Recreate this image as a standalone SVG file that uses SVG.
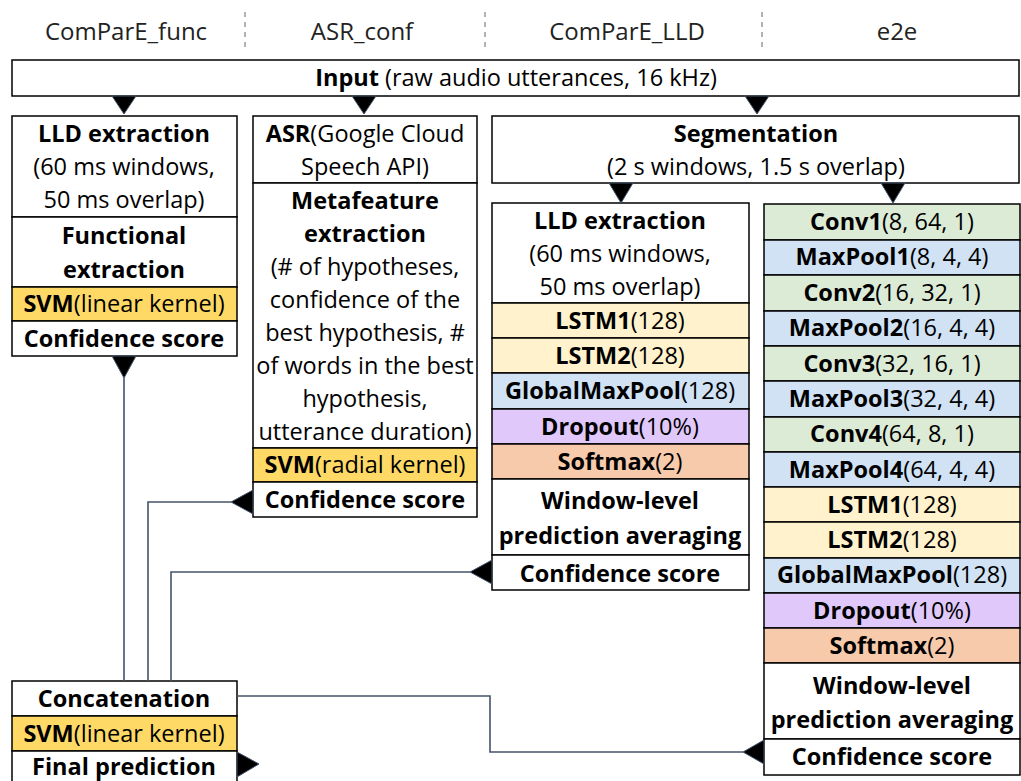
<svg xmlns="http://www.w3.org/2000/svg" width="1021" height="781" viewBox="0 0 1021 781">
<style>
text{font-family:"Open Sans",Lato,"Liberation Sans",sans-serif;font-size:23.5px;fill:#000;text-anchor:middle}
.b{font-weight:bold}
.h{font-size:24px;fill:#222}
.in{font-size:23.5px}
.box{stroke:#000;stroke-width:1.5}
.w{fill:#fff}
.svm{fill:#FFD966}
.lstm{fill:#FFF2CC}
.blue{fill:#D0E2F3}
.green{fill:#DCEBD5}
.drop{fill:#E0C9FA}
.soft{fill:#F7CAAC}
.sep{stroke:#666;stroke-width:1;stroke-dasharray:5,5}
.ln{fill:none;stroke:#44546A;stroke-width:1.6}
.ah{fill:#000;stroke:#44546A;stroke-width:1}
</style>
<rect x="0" y="0" width="1021" height="781" fill="#fff"/>
<g id="header">
<line class="sep" x1="245" y1="12" x2="245" y2="50"/>
<line class="sep" x1="485" y1="12" x2="485" y2="50"/>
<line class="sep" x1="762" y1="12" x2="762" y2="50"/>
<text class="h" x="126" y="40">ComParE_func</text>
<text class="h" x="362" y="40">ASR_conf</text>
<text class="h" x="627" y="40">ComParE_LLD</text>
<text class="h" x="897" y="40">e2e</text>
</g>
<g id="input">
<rect class="box w" x="12" y="60" width="1007" height="36"/>
<text class="in" x="516" y="86"><tspan class="b">Input</tspan> (raw audio utterances, 16 kHz)</text>
</g>
<g id="func">
<rect class="box w" x="12" y="116" width="225" height="101"/>
<text class="b" x="124" y="142">LLD extraction</text>
<text x="124" y="175">(60 ms windows,</text>
<text x="124" y="208">50 ms overlap)</text>
<rect class="box w" x="12" y="217" width="225" height="70"/>
<text class="b" x="124" y="244">Functional</text>
<text class="b" x="124" y="278">extraction</text>
<rect class="box svm" x="12" y="287" width="225" height="34"/>
<text x="124" y="312"><tspan class="b">SVM</tspan>(linear kernel)</text>
<rect class="box w" x="12" y="321" width="225" height="35"/>
<text class="b" x="124" y="347">Confidence score</text>
</g>
<g id="asr">
<rect class="box w" x="253" y="116" width="224" height="67"/>
<text x="365" y="142"><tspan class="b">ASR</tspan>(Google Cloud</text>
<text x="365" y="175">Speech API)</text>
<rect class="box w" x="253" y="183" width="224" height="265"/>
<text class="b" x="365" y="209">Metafeature</text>
<text class="b" x="365" y="242">extraction</text>
<text x="365" y="275">(# of hypotheses,</text>
<text x="365" y="308">confidence of the</text>
<text x="365" y="341">best hypothesis, #</text>
<text x="365" y="374">of words in the best</text>
<text x="365" y="407">hypothesis,</text>
<text x="365" y="440">utterance duration)</text>
<rect class="box svm" x="253" y="448" width="224" height="34"/>
<text x="365" y="473"><tspan class="b">SVM</tspan>(radial kernel)</text>
<rect class="box w" x="253" y="482" width="224" height="35"/>
<text class="b" x="365" y="508">Confidence score</text>
</g>
<g id="segmentation">
<rect class="box w" x="492" y="116" width="527" height="67"/>
<text class="b" x="756" y="142">Segmentation</text>
<text x="756" y="175">(2 s windows, 1.5 s overlap)</text>
</g>
<g id="lld">
<rect class="box w" x="492" y="203" width="257" height="100"/>
<text class="b" x="620" y="229">LLD extraction</text>
<text x="620" y="262">(60 ms windows,</text>
<text x="620" y="295">50 ms overlap)</text>
<rect class="box lstm" x="492" y="303" width="257" height="35"/>
<text x="620" y="329"><tspan class="b">LSTM1</tspan>(128)</text>
<rect class="box lstm" x="492" y="338" width="257" height="35"/>
<text x="620" y="364"><tspan class="b">LSTM2</tspan>(128)</text>
<rect class="box blue" x="492" y="373" width="257" height="36"/>
<text x="620" y="399"><tspan class="b">GlobalMaxPool</tspan>(128)</text>
<rect class="box drop" x="492" y="409" width="257" height="35"/>
<text x="620" y="435"><tspan class="b">Dropout</tspan>(10%)</text>
<rect class="box soft" x="492" y="444" width="257" height="35"/>
<text x="620" y="470"><tspan class="b">Softmax</tspan>(2)</text>
<rect class="box w" x="492" y="479" width="257" height="76"/>
<text class="b" x="620" y="509">Window-level</text>
<text class="b" x="620" y="544">prediction averaging</text>
<rect class="box w" x="492" y="555" width="257" height="35"/>
<text class="b" x="620" y="582">Confidence score</text>
</g>
<g id="e2e">
<rect class="box green" x="764" y="204" width="256" height="36"/>
<text x="892" y="230"><tspan class="b">Conv1</tspan>(8, 64, 1)</text>
<rect class="box blue" x="764" y="240" width="256" height="35"/>
<text x="892" y="265"><tspan class="b">MaxPool1</tspan>(8, 4, 4)</text>
<rect class="box green" x="764" y="275" width="256" height="36"/>
<text x="892" y="301"><tspan class="b">Conv2</tspan>(16, 32, 1)</text>
<rect class="box blue" x="764" y="311" width="256" height="35"/>
<text x="892" y="336"><tspan class="b">MaxPool2</tspan>(16, 4, 4)</text>
<rect class="box green" x="764" y="346" width="256" height="35"/>
<text x="892" y="372"><tspan class="b">Conv3</tspan>(32, 16, 1)</text>
<rect class="box blue" x="764" y="381" width="256" height="36"/>
<text x="892" y="407"><tspan class="b">MaxPool3</tspan>(32, 4, 4)</text>
<rect class="box green" x="764" y="417" width="256" height="35"/>
<text x="892" y="442"><tspan class="b">Conv4</tspan>(64, 8, 1)</text>
<rect class="box blue" x="764" y="452" width="256" height="35"/>
<text x="892" y="478"><tspan class="b">MaxPool4</tspan>(64, 4, 4)</text>
<rect class="box lstm" x="764" y="487" width="256" height="35"/>
<text x="892" y="513"><tspan class="b">LSTM1</tspan>(128)</text>
<rect class="box lstm" x="764" y="522" width="256" height="36"/>
<text x="892" y="548"><tspan class="b">LSTM2</tspan>(128)</text>
<rect class="box blue" x="764" y="558" width="256" height="35"/>
<text x="892" y="583"><tspan class="b">GlobalMaxPool</tspan>(128)</text>
<rect class="box drop" x="764" y="593" width="256" height="35"/>
<text x="892" y="619"><tspan class="b">Dropout</tspan>(10%)</text>
<rect class="box soft" x="764" y="628" width="256" height="35"/>
<text x="892" y="654"><tspan class="b">Softmax</tspan>(2)</text>
<rect class="box w" x="764" y="663" width="256" height="76"/>
<text class="b" x="892" y="694">Window-level</text>
<text class="b" x="892" y="728">prediction averaging</text>
<rect class="box w" x="764" y="739" width="256" height="36"/>
<text class="b" x="892" y="765">Confidence score</text>
</g>
<g id="concat">
<rect class="box w" x="12" y="681" width="225" height="35"/>
<text class="b" x="124" y="707">Concatenation</text>
<rect class="box svm" x="12" y="716" width="225" height="35"/>
<text x="124" y="742"><tspan class="b">SVM</tspan>(linear kernel)</text>
<rect class="box w" x="12" y="751" width="225" height="40"/>
<text class="b" x="124" y="775">Final prediction</text>
</g>
<g id="connectors">
<polyline class="ln" points="124,378 124,681"/>
<polyline class="ln" points="231,502 148,502 148,681"/>
<polyline class="ln" points="470,572 171,572 171,681"/>
<polyline class="ln" points="237,696 490,696 490,752 743,752"/>
<polygon class="ah" points="112,96 136,96 124,114"/>
<polygon class="ah" points="352,96 376,96 364,114"/>
<polygon class="ah" points="745,96 769,96 757,114"/>
<polygon class="ah" points="609,183 633,183 621,203"/>
<polygon class="ah" points="881,183 905,183 893,203"/>
<polygon class="ah" points="112,356 136,356 124,378"/>
<polygon class="ah" points="253,490 253,514 231,502"/>
<polygon class="ah" points="492,560 492,584 470,572"/>
<polygon class="ah" points="764,740 764,764 743,752"/>
<polygon class="ah" points="237,752 237,777 259,764"/>
</g>
</svg>
